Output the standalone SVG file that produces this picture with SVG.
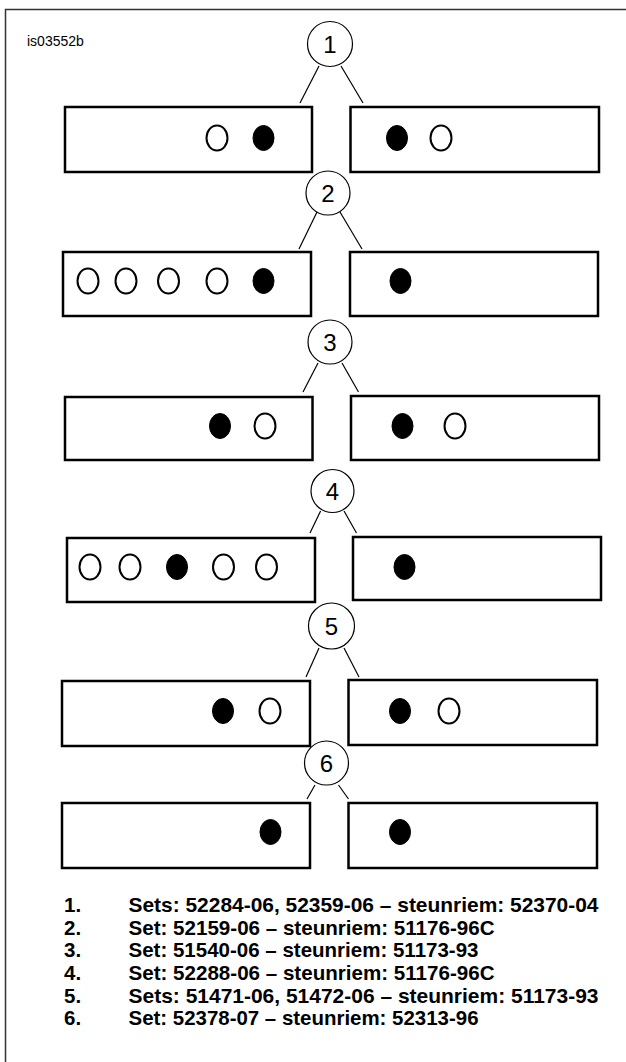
<svg xmlns="http://www.w3.org/2000/svg" width="626" height="1062" viewBox="0 0 626 1062">
<style>
.frame{fill:none;stroke:#333;stroke-width:1.5}
.box{fill:#fff;stroke:#000;stroke-width:2.5}
.num{fill:#fff;stroke:#000;stroke-width:1.2}
.numt{font-family:"Liberation Sans",Arial,sans-serif;font-size:24px;fill:#000;text-anchor:middle}
.o{fill:#fff;stroke:#000;stroke-width:2}
.f{fill:#000;stroke:#000;stroke-width:1}
.conn line{stroke:#000;stroke-width:1.2}
.lbl{font-family:"Liberation Sans",Arial,sans-serif;font-size:14px;fill:#000}
.leg{font-family:"Liberation Sans",Arial,sans-serif;font-size:20.5px;font-weight:bold;fill:#000}
</style>
<path class="frame" d="M626 9.5H5.5V1062"/>
<text class="lbl" x="27" y="46">is03552b</text>
<g id="connectors" class="conn">
<line x1="319" y1="66" x2="300" y2="103"/><line x1="341" y1="66" x2="363" y2="103"/>
<line x1="317" y1="212" x2="299" y2="249"/><line x1="340" y1="212" x2="362" y2="249"/>
<line x1="318" y1="363" x2="303" y2="392"/><line x1="342" y1="363" x2="358.5" y2="392"/>
<line x1="320.6" y1="511" x2="310" y2="533"/><line x1="344" y1="511" x2="356.5" y2="533"/>
<line x1="319" y1="648" x2="306" y2="677"/><line x1="344" y1="648" x2="359" y2="677"/>
<line x1="315" y1="785" x2="307" y2="799"/><line x1="338.5" y1="785" x2="348.5" y2="799"/>
</g>
<g id="n1"><circle class="num" cx="330" cy="44" r="22.5"/><text class="numt" x="330" y="52.5">1</text></g>
<g id="b1l"><rect class="box" x="65" y="107" width="247" height="65"/><ellipse class="o" cx="217" cy="138" rx="10.5" ry="12.5"/><ellipse class="f" cx="263.5" cy="138" rx="10.5" ry="12.5"/></g>
<g id="b1r"><rect class="box" x="350.5" y="107" width="248.5" height="65"/><ellipse class="f" cx="397" cy="138" rx="10.5" ry="12.5"/><ellipse class="o" cx="441" cy="138" rx="10.5" ry="12.5"/></g>

<g id="n2"><circle class="num" cx="328" cy="193" r="22"/><text class="numt" x="328" y="201.5">2</text></g>
<g id="b2l"><rect class="box" x="63" y="252" width="248" height="64"/><ellipse class="o" cx="88" cy="281" rx="10.5" ry="12.5"/><ellipse class="o" cx="126" cy="281" rx="10.5" ry="12.5"/><ellipse class="o" cx="168.5" cy="281" rx="10.5" ry="12.5"/><ellipse class="o" cx="217" cy="281" rx="10.5" ry="12.5"/><ellipse class="f" cx="263.5" cy="281" rx="10.5" ry="12.5"/></g>
<g id="b2r"><rect class="box" x="350" y="252" width="248" height="64"/><ellipse class="f" cx="400.5" cy="281" rx="10.5" ry="12.5"/></g>

<g id="n3"><circle class="num" cx="330" cy="342" r="22"/><text class="numt" x="330" y="350.5">3</text></g>
<g id="b3l"><rect class="box" x="65" y="397" width="247.5" height="63"/><ellipse class="f" cx="220" cy="426" rx="10.5" ry="12.5"/><ellipse class="o" cx="265" cy="426" rx="10.5" ry="12.5"/></g>
<g id="b3r"><rect class="box" x="351" y="396" width="248" height="64"/><ellipse class="f" cx="402.5" cy="426" rx="10.5" ry="12.5"/><ellipse class="o" cx="455" cy="426" rx="10.5" ry="12.5"/></g>

<g id="n4"><circle class="num" cx="332.5" cy="491" r="21.5"/><text class="numt" x="332.5" y="499.5">4</text></g>
<g id="b4l"><rect class="box" x="67" y="538" width="248" height="64"/><ellipse class="o" cx="90" cy="567" rx="10.5" ry="12.5"/><ellipse class="o" cx="130" cy="567" rx="10.5" ry="12.5"/><ellipse class="f" cx="177" cy="567" rx="10.5" ry="12.5"/><ellipse class="o" cx="223.5" cy="567" rx="10.5" ry="12.5"/><ellipse class="o" cx="266.5" cy="567" rx="10.5" ry="12.5"/></g>
<g id="b4r"><rect class="box" x="353" y="537" width="248" height="63"/><ellipse class="f" cx="404.5" cy="567" rx="10.5" ry="12.5"/></g>

<g id="n5"><circle class="num" cx="331.5" cy="626" r="23"/><text class="numt" x="331.5" y="634.5">5</text></g>
<g id="b5l"><rect class="box" x="62" y="681" width="248" height="65"/><ellipse class="f" cx="223" cy="711" rx="10.5" ry="12.5"/><ellipse class="o" cx="270" cy="711" rx="10.5" ry="12.5"/></g>
<g id="b5r"><rect class="box" x="348.5" y="680" width="248.5" height="65"/><ellipse class="f" cx="400" cy="711" rx="10.5" ry="12.5"/><ellipse class="o" cx="449" cy="711" rx="10.5" ry="12.5"/></g>

<g id="n6"><circle class="num" cx="326.5" cy="763" r="22"/><text class="numt" x="326.5" y="771.5">6</text></g>
<g id="b6l"><rect class="box" x="62" y="803" width="248" height="65"/><ellipse class="f" cx="270.5" cy="832" rx="10.5" ry="12.5"/></g>
<g id="b6r"><rect class="box" x="348.5" y="803" width="248.5" height="65"/><ellipse class="f" cx="400" cy="832" rx="10.5" ry="12.5"/></g>

<g id="legend" class="leg">
<text x="64" y="912">1.</text><text x="128.5" y="912" textLength="470" lengthAdjust="spacingAndGlyphs">Sets: 52284-06, 52359-06 – steunriem: 52370-04</text>
<text x="64" y="935">2.</text><text x="128.5" y="935" textLength="366" lengthAdjust="spacingAndGlyphs">Set: 52159-06 – steunriem: 51176-96C</text>
<text x="64" y="957">3.</text><text x="128.5" y="957" textLength="350" lengthAdjust="spacingAndGlyphs">Set: 51540-06 – steunriem: 51173-93</text>
<text x="64" y="980">4.</text><text x="128.5" y="980" textLength="366" lengthAdjust="spacingAndGlyphs">Set: 52288-06 – steunriem: 51176-96C</text>
<text x="64" y="1003">5.</text><text x="128.5" y="1003" textLength="470" lengthAdjust="spacingAndGlyphs">Sets: 51471-06, 51472-06 – steunriem: 51173-93</text>
<text x="64" y="1025">6.</text><text x="128.5" y="1025" textLength="350" lengthAdjust="spacingAndGlyphs">Set: 52378-07 – steunriem: 52313-96</text>
</g>
</svg>
